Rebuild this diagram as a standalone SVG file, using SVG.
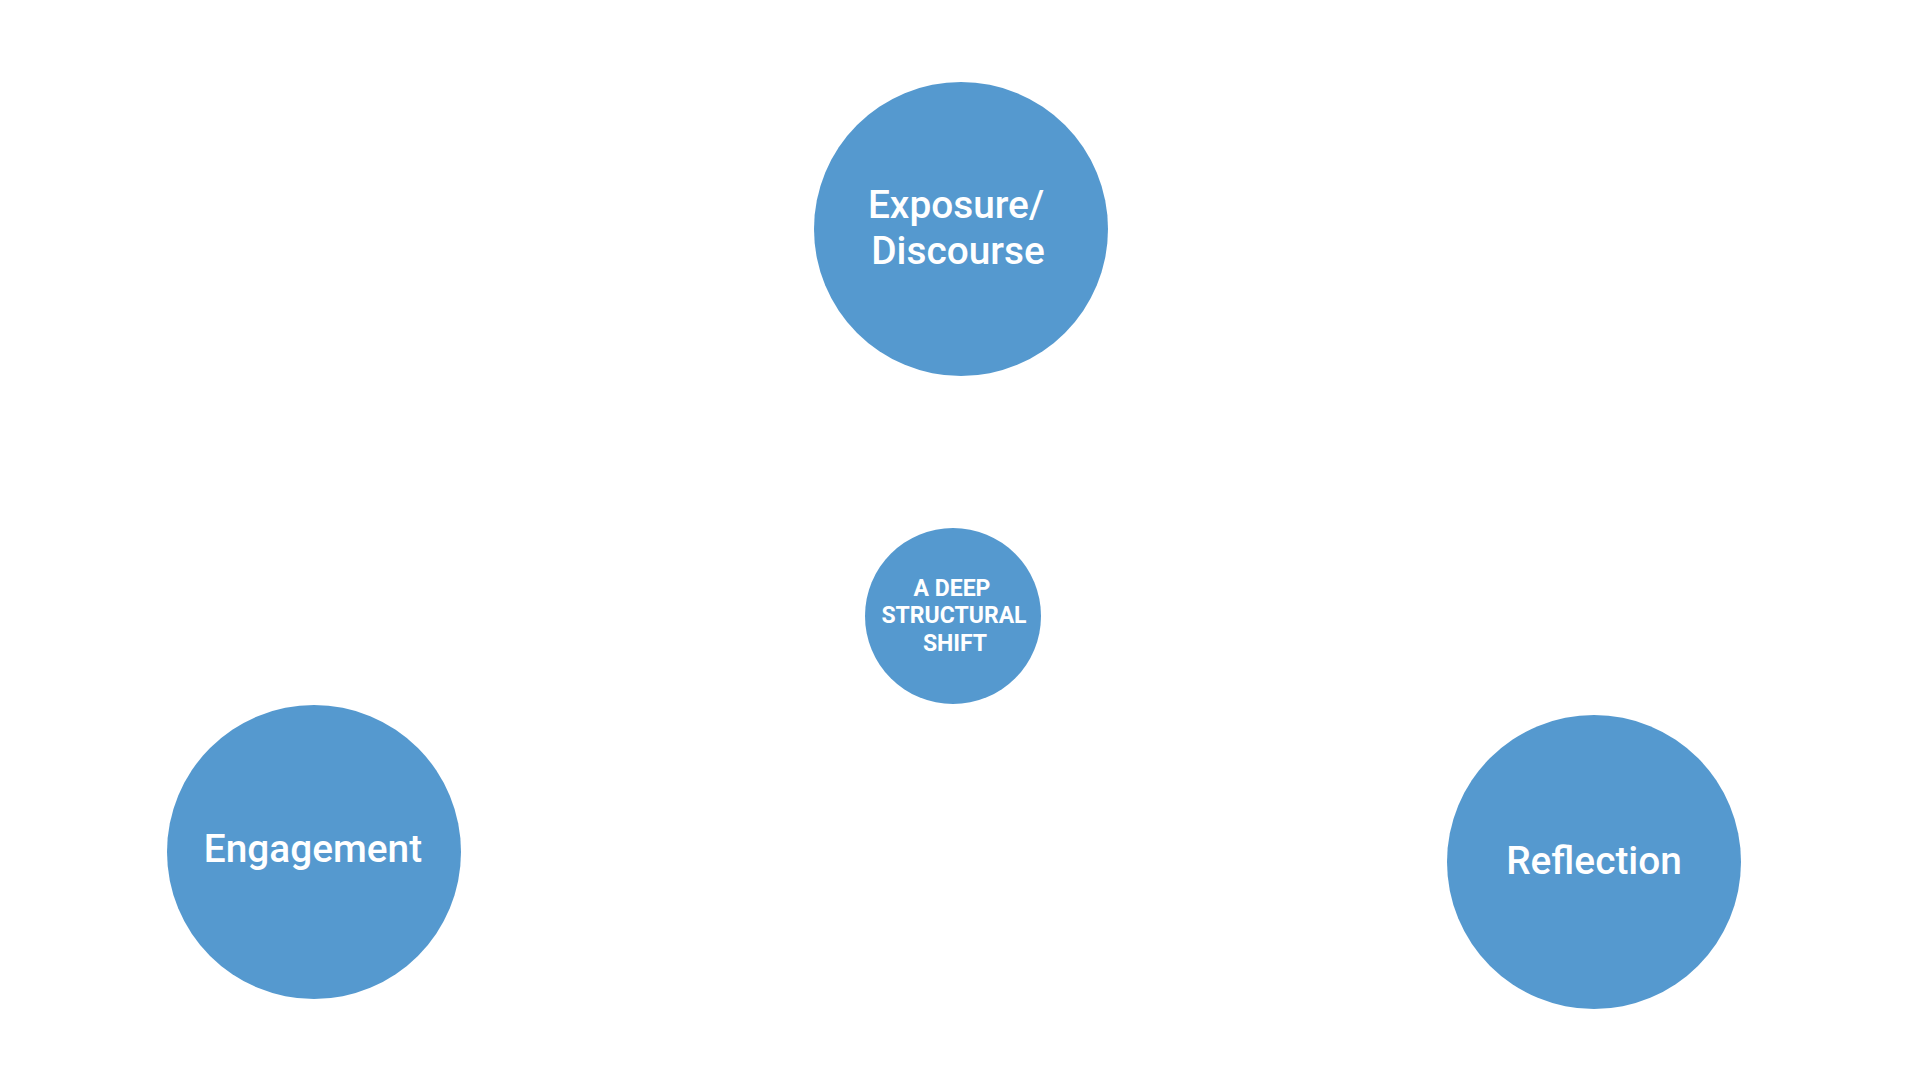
<svg xmlns="http://www.w3.org/2000/svg" width="1920" height="1080" viewBox="0 0 1920 1080">
<style>
.node{fill:#5599CF}
.lbl{fill:#FFFFFF;font-family:Roboto,"Liberation Sans",sans-serif;font-weight:500;font-size:38.8px;text-anchor:middle}
.sm{fill:#FFFFFF;font-family:Roboto,"Liberation Sans",sans-serif;font-weight:700;font-size:23px;text-anchor:middle}
</style>
<rect width="1920" height="1080" fill="#FFFFFF"/>
<g id="connectors"></g>
<g id="exposure">
<circle class="node" cx="961" cy="229" r="147"/>
<text class="lbl" x="956" y="218">Exposure/</text>
<text class="lbl" x="958" y="264">Discourse</text>
</g>
<g id="shift">
<circle class="node" cx="953" cy="616" r="88"/>
<text class="sm" x="952" y="596">A DEEP</text>
<text class="sm" x="954" y="623">STRUCTURAL</text>
<text class="sm" x="955" y="651">SHIFT</text>
</g>
<g id="engagement">
<circle class="node" cx="314" cy="852" r="147"/>
<text class="lbl" x="313" y="862">Engagement</text>
</g>
<g id="reflection">
<circle class="node" cx="1594" cy="862" r="147"/>
<text class="lbl" x="1594" y="874">Reflection</text>
</g>
</svg>
